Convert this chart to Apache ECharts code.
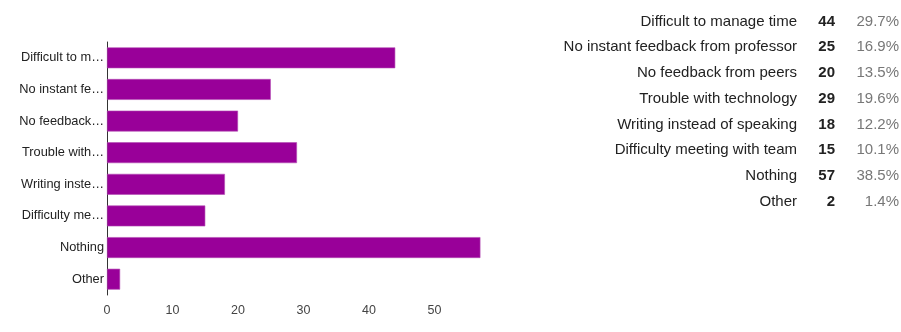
<!DOCTYPE html>
<html><head><meta charset="utf-8">
<script src="https://cdn.jsdelivr.net/npm/echarts@6/dist/echarts.min.js"></script>
<style>html,body{margin:0;padding:0;background:#fff}#c{width:901px;height:332px}</style>
</head><body><div id="c"></div>
<script>
const categories = ["Difficult to manage time","No instant feedback from professor","No feedback from peers","Trouble with technology","Writing instead of speaking","Difficulty meeting with team","Nothing","Other"];
const shortLabels = ["Difficult to m…","No instant fe…","No feedback…","Trouble with…","Writing inste…","Difficulty me…","Nothing","Other"];
const counts = [44,25,20,29,18,15,57,2];
const percents = ["29.7%","16.9%","13.5%","19.6%","12.2%","10.1%","38.5%","1.4%"];
const xTicks = [0,10,20,30,40,50];

const font = 'Liberation Sans, Arial, sans-serif';
const chart = echarts.init(document.getElementById('c'), null, {renderer:'canvas'});
const hiddenX = (gi) => ({gridIndex: gi, type:'value', show:false, min:0, max:1});
const tableY = (gi, labels, style) => ({
  gridIndex: gi, type:'category', inverse:true, data: labels,
  axisLine:{show:false}, axisTick:{show:false}, splitLine:{show:false},
  axisLabel: Object.assign({margin:0, fontFamily:font, fontSize:15, align:'right'}, style)
});
chart.setOption({
  animation:false,
  grid:[
    {left:107, top:42, width:373.4, height:253, containLabel:false},
    {left:797, top:8.5, width:1, height:206},
    {left:835, top:8.5, width:1, height:206},
    {left:899, top:8.5, width:1, height:206}
  ],
  xAxis:[
    {gridIndex:0, type:'value', min:0, max:57, interval:10,
     axisLine:{show:false}, axisTick:{show:false}, splitLine:{show:false},
     axisLabel:{showMaxLabel:false, color:'#444', fontFamily:font, fontSize:12.5, margin:9,
       formatter: v => xTicks.includes(v) ? String(v) : ''}},
    hiddenX(1), hiddenX(2), hiddenX(3)
  ],
  yAxis:[
    {gridIndex:0, type:'category', inverse:true, data: categories,
     axisLine:{show:true, lineStyle:{color:'#333', width:1}}, axisTick:{show:false},
     axisLabel:{color:'#222', fontFamily:font, fontSize:12.8, margin:3,
       formatter:(v, i) => shortLabels[i]}},
    tableY(1, categories, {color:'#222'}),
    tableY(2, counts.map(String), {color:'#222', fontWeight:'bold'}),
    tableY(3, percents, {color:'#777'})
  ],
  series:[{
    type:'bar', xAxisIndex:0, yAxisIndex:0, data: counts,
    barCategoryGap:'34%',
    itemStyle:{color:'#990099', borderColor:'#b44cb4', borderWidth:0.6}
  }]
});
</script></body></html>
